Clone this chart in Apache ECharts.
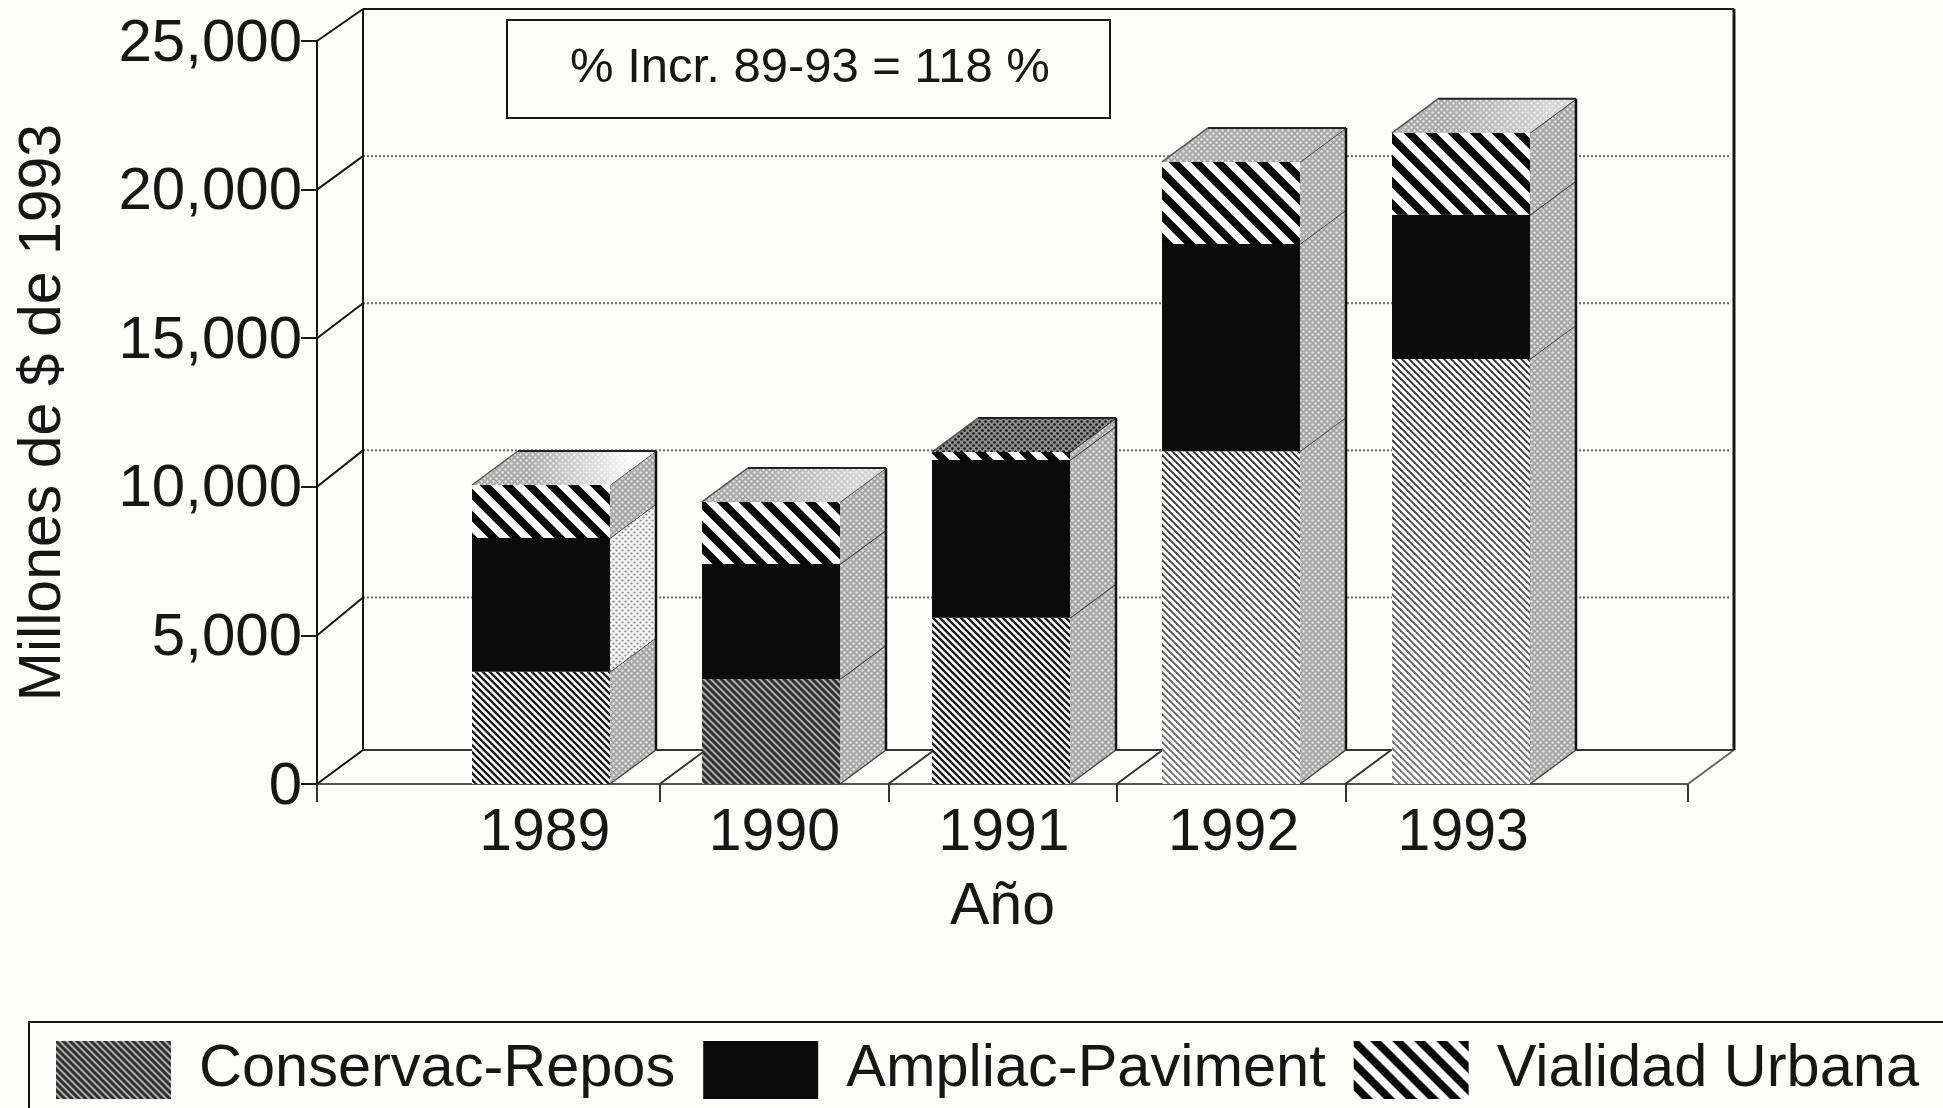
<!DOCTYPE html>
<html>
<head>
<meta charset="utf-8">
<style>html,body{margin:0;padding:0;background:#fefefc}#c{width:1943px;height:1108px}</style>
<script src="https://cdn.jsdelivr.net/npm/echarts@6/dist/echarts.min.js"></script>
</head>
<body>
<div id="c"></div>
<script>
const categories = ['1989', '1990', '1991', '1992', '1993'];
const conservac = [3780, 3530, 5590, 11200, 14300];
const ampliac = [4500, 3870, 5310, 6970, 4850];
const vialidad = [1780, 2090, 270, 2760, 2760];
const yTicks = [0, 5000, 10000, 15000, 20000, 25000];
const xTickPositions = [1988, 1989.5, 1990.5, 1991.5, 1992.5, 1994];
const seriesNames = ['Conservac-Repos', 'Ampliac-Paviment', 'Vialidad Urbana'];
const annotation = '% Incr. 89-93 = 118 %';
const yTitle = 'Millones de $ de 1993';
const xTitle = 'Año';

const FONT = '"Liberation Sans", Arial, sans-serif';
const INK = '#161616';
const DX = 46, DY = 34;

function tile(w, h, draw) {
  const c = document.createElement('canvas');
  c.width = w; c.height = h;
  draw(c.getContext('2d'));
  return { image: c, repeat: 'repeat' };
}
function stripes(p, lw, fg, bg) {
  return tile(p, p, g => {
    g.fillStyle = bg; g.fillRect(0, 0, p, p);
    g.strokeStyle = fg; g.lineWidth = lw; g.lineCap = 'square';
    for (const o of [-2 * p, -p, 0, p, 2 * p]) {
      g.beginPath(); g.moveTo(o - p, -p); g.lineTo(o + 2 * p, 2 * p); g.stroke();
    }
  });
}
function dots(bg, fg, r) {
  return tile(6, 6, g => {
    g.fillStyle = bg; g.fillRect(0, 0, 6, 6);
    g.fillStyle = fg;
    for (const [x, y] of [[1.5, 1.5], [4.5, 4.5]]) {
      g.beginPath(); g.arc(x, y, r, 0, 7); g.fill();
    }
  });
}

const fineDark = stripes(7, 2.4, '#1c1c1c', '#ffffff');
const fineGray = stripes(7, 2.8, '#2e2e2e', '#a8a8a8');
const fineLight = stripes(7, 1.8, '#2a2a2a', '#ffffff');
const wide = stripes(22, 7.8, '#060606', '#ffffff');
const solid = '#0b0b0b';
const sideDots = dots('#a6a6a6', '#e4e4e4', 1.25);
const sideLight = dots('#f3f3f3', '#8a8a8a', 1.1);
const topDots = dots('#a9a9a9', '#e8e8e8', 1.2);
const topDark = dots('#8c8c8c', '#151515', 1.3);

const conservFills = [fineDark, fineGray, fineDark, fineLight, fineLight];
const topFills = [topDots, topDots, topDark, topDots, topDots];
const topGlare = [0.9, 0.5, 0, 0, 0.5];

const faceData = categories.map((c, i) => [
  i, conservac[i], conservac[i] + ampliac[i], conservac[i] + ampliac[i] + vialidad[i]
]);

function polygon(points, fill, stroke, lw) {
  return { type: 'polygon', shape: { points }, style: { fill, stroke: stroke || null, lineWidth: lw || 0 } };
}
function line(x1, y1, x2, y2, stroke, lineWidth, dash) {
  return { type: 'line', shape: { x1, y1, x2, y2 }, style: { stroke, lineWidth, lineDash: dash || null, fill: null } };
}

function renderFrame(params, api) {
  const min = 1988, max = 1994;
  const [x0, y0] = api.coord([min, 0]);
  const [x1] = api.coord([max, 0]);
  const [, yT] = api.coord([min, 25000]);
  const backTop = yT - 32;
  const backY = y => backTop + (y - yT) * 0.99;
  const kids = [];
  yTicks.forEach(v => {
    const y = api.coord([min, v])[1];
    const by = v === 0 ? y0 - DY : backY(y);
    if (v > 0 && v < 25000) {
      kids.push(line(x0 + DX, by, x1 + DX - 4, by, '#6a6a6a', 2, [2, 2]));
    }
    kids.push(line(x0, y, x0 + DX, by, INK, 2));
  });
  xTickPositions.forEach(t => {
    const x = api.coord([t, 0])[0];
    if (t > min) kids.push(line(x, y0, x + DX, y0 - DY, t === max ? '#666' : '#333', 2));
  });
  kids.push(line(x0 + DX, backTop, x1 + DX, backTop, INK, 2));
  kids.push(line(x0 + DX, backTop, x0 + DX, y0 - DY, INK, 2));
  kids.push(line(x1 + DX, backTop, x1 + DX, y0 - DY, INK, 3));
  kids.push(line(x0 + DX, y0 - DY, x1 + DX, y0 - DY, '#333', 2));
  return { type: 'group', children: kids };
}

function renderFaces(params, api) {
  const i = api.value(0);
  const w = 138;
  const r = api.coord([i, 0])[0] + w / 2;
  const l = r - w;
  const ys = [0, api.value(1), api.value(2), api.value(3)].map(v => api.coord([i, v])[1]);
  const kids = [];
  for (let s = 0; s < 3; s++) {
    const fill = (i === 0 && s === 1) ? sideLight : sideDots;
    kids.push(polygon([[r, ys[s]], [r + DX, ys[s] - DY], [r + DX, ys[s + 1] - DY], [r, ys[s + 1]]], fill));
    kids.push(line(r, ys[s + 1], r + DX, ys[s + 1] - DY, '#333', 1.5));
  }
  kids.push(line(r, ys[0], r + DX, ys[0] - DY, '#444', 1.5));
  kids.push(line(r + DX, ys[0] - DY, r + DX, ys[3] - DY, '#111', 2.5));
  const topPts = [[l, ys[3]], [r, ys[3]], [r + DX, ys[3] - DY], [l + DX, ys[3] - DY]];
  kids.push(polygon(topPts, topFills[i]));
  if (topGlare[i] > 0) {
    kids.push(polygon(topPts, new echarts.graphic.LinearGradient(0, 0, 1, 0, [
      { offset: 0.3, color: 'rgba(255,255,255,0)' },
      { offset: 0.85, color: 'rgba(255,255,255,' + topGlare[i] + ')' }
    ])));
  }
  kids.push(line(l + DX, ys[3] - DY, r + DX, ys[3] - DY, '#222', 2));
  kids.push(line(l, ys[3], l + DX, ys[3] - DY, '#555', 1.5));
  if (i >= 3) {
    kids.push({
      type: 'rect',
      shape: { x: l, y: ys[1], width: w, height: ys[0] - ys[1] },
      style: {
        fill: new echarts.graphic.LinearGradient(0, 0, 0, 1, [
          { offset: 0, color: 'rgba(255,255,255,0)' },
          { offset: 1, color: 'rgba(255,255,255,0.35)' }
        ])
      }
    });
  }
  return { type: 'group', children: kids };
}

const axisText = { color: INK, fontFamily: FONT, fontSize: 59 };

const chart = echarts.init(document.getElementById('c'), null, { renderer: 'canvas', width: 1943, height: 1108 });
chart.setOption({
  animation: false,
  backgroundColor: '#fefefc',
  grid: [
    { left: 317, top: 41, width: 1371, height: 743 },
    { left: 426, top: 41, width: 1150, height: 743 },
    { left: 430, top: 41, width: 1148, height: 743 }
  ],
  xAxis: [
    {
      gridIndex: 0, type: 'value', min: 1988, max: 1994, interval: 1,
      splitLine: { show: false },
      axisLine: { show: true, lineStyle: { color: '#555', width: 2 } },
      axisTick: { show: true, length: 18, customValues: xTickPositions, lineStyle: { color: '#333', width: 2 } },
      axisLabel: { show: false },
      name: xTitle, nameLocation: 'middle', nameGap: 94,
      nameTextStyle: axisText
    },
    { gridIndex: 1, type: 'category', data: categories, show: false },
    {
      gridIndex: 2, type: 'category', data: categories,
      axisLine: { show: false }, axisTick: { show: false }, splitLine: { show: false },
      axisLabel: Object.assign({}, axisText, { margin: 20 })
    }
  ],
  yAxis: [
    {
      gridIndex: 0, type: 'value', min: 0, max: 25000, interval: 5000,
      splitLine: { show: false },
      axisLine: { show: true, lineStyle: { color: INK, width: 2 } },
      axisTick: { show: true, length: 16, lineStyle: { color: INK, width: 2 } },
      axisLabel: Object.assign({}, axisText, {
        fontSize: 60, margin: 15, verticalAlign: 'top', lineHeight: 6,
        formatter: v => v.toLocaleString('en-US')
      }),
      name: yTitle, nameLocation: 'middle', nameGap: 244, nameRotate: 90,
      nameTextStyle: Object.assign({}, axisText, { fontSize: 59 })
    },
    { gridIndex: 1, type: 'value', min: 0, max: 25000, interval: 5000, show: false },
    { gridIndex: 2, type: 'value', min: 0, max: 25000, interval: 5000, show: false }
  ],
  legend: {
    left: 56, top: 1040, orient: 'horizontal', padding: 0,
    itemWidth: 115, itemHeight: 58, itemGap: 28, icon: 'rect',
    data: seriesNames,
    textStyle: { color: INK, fontFamily: FONT, fontSize: 59.5, padding: [0, 0, 3, 23] }
  },
  graphic: [
    {
      type: 'rect', z: 0,
      shape: { x: 29, y: 1022, width: 2100, height: 300 },
      style: { fill: null, stroke: INK, lineWidth: 2 }
    },
    {
      type: 'rect', z: 5,
      shape: { x: 507, y: 20, width: 603, height: 98 },
      style: { fill: '#fefefc', stroke: INK, lineWidth: 2 }
    },
    {
      type: 'text', z: 6, left: 570, top: 44,
      style: { text: annotation, fill: INK, font: '49px ' + FONT }
    }
  ],
  series: [
    {
      type: 'custom', name: 'frame', xAxisIndex: 0, yAxisIndex: 0, z: 1, silent: true,
      renderItem: renderFrame, data: [[1988, 0]], encode: { x: 0, y: 1 }, clip: false
    },
    {
      type: 'bar', name: seriesNames[0], stack: 't', xAxisIndex: 1, yAxisIndex: 1, z: 2,
      barWidth: 138, itemStyle: { color: fineGray },
      data: conservac.map((v, i) => ({ value: v, itemStyle: { color: conservFills[i] } }))
    },
    {
      type: 'bar', name: seriesNames[1], stack: 't', xAxisIndex: 1, yAxisIndex: 1, z: 2,
      barWidth: 138, itemStyle: { color: solid }, data: ampliac
    },
    {
      type: 'bar', name: seriesNames[2], stack: 't', xAxisIndex: 1, yAxisIndex: 1, z: 2,
      barWidth: 138, itemStyle: { color: wide }, data: vialidad
    },
    {
      type: 'custom', name: 'faces', xAxisIndex: 1, yAxisIndex: 1, z: 3, silent: true,
      renderItem: renderFaces, data: faceData, encode: { x: 0, y: 3 }, clip: false
    }
  ]
});
</script>
</body>
</html>
